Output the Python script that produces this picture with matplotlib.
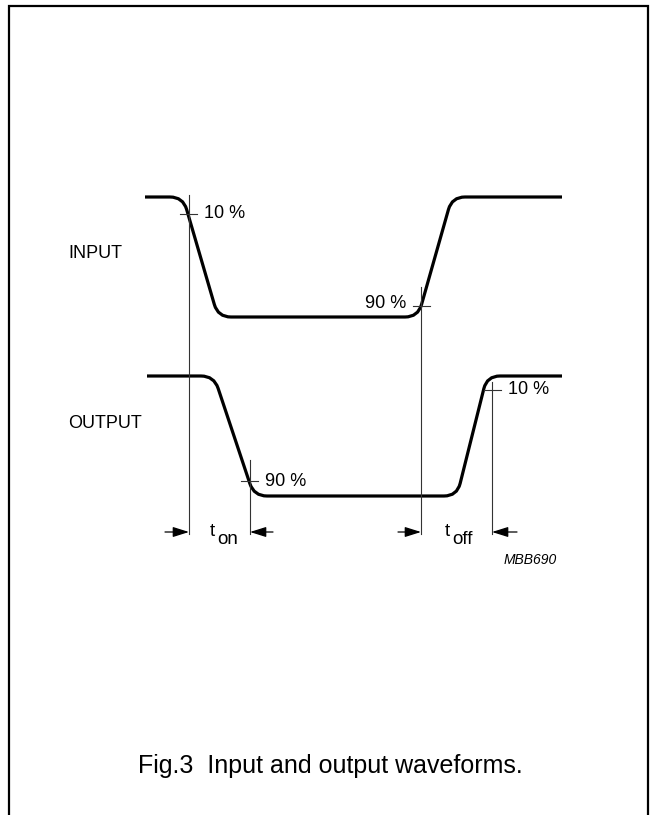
import numpy as np
import matplotlib.pyplot as plt
from matplotlib.path import Path
from matplotlib.patches import PathPatch

plt.rcParams['font.family'] = ['Liberation Sans', 'DejaVu Sans']

# waveform breakpoints (pixel coords of the drawing, y downwards)
in_x = [145, 183, 218, 418, 452, 562]
in_y = [197, 197, 317, 317, 197, 197]
out_x = [147, 214, 254, 457, 487, 562]
out_y = [376, 376, 496, 496, 376, 376]

# threshold marks: (x, y, label, text side)
marks = [(188, 214, '10 %', 'r'), (421, 306, '90 %', 'l'),
         (249, 481, '90 %', 'r'), (492, 390, '10 %', 'r')]
# reference lines: x, y top
vlines = [(189, 195), (421, 287), (250, 460), (492, 382)]
vline_bottom = 534
arrow_y = 532


def rounded_path(xs, ys, r=13):
    verts = [(xs[0], ys[0])]
    codes = [Path.MOVETO]
    for i in range(1, len(xs) - 1):
        p0 = np.array([xs[i-1], ys[i-1]], float)
        p1 = np.array([xs[i], ys[i]], float)
        p2 = np.array([xs[i+1], ys[i+1]], float)
        a = p1 + (p0 - p1) / np.linalg.norm(p0 - p1) * r
        b = p1 + (p2 - p1) / np.linalg.norm(p2 - p1) * r
        verts += [tuple(a), tuple(p1), tuple(b)]
        codes += [Path.LINETO, Path.CURVE3, Path.CURVE3]
    verts.append((xs[-1], ys[-1]))
    codes.append(Path.LINETO)
    return Path(verts, codes)


fig = plt.figure(figsize=(6.54, 8.15), dpi=100)
ax = fig.add_axes([0, 0, 1, 1])
ax.set_xlim(0, 654)
ax.set_ylim(815, 0)
ax.axis('off')

# frame
ax.plot([8.5, 8.5, 648, 648], [815, 6, 6, 815], color='black', lw=1.6,
        solid_joinstyle='miter')

for xs, ys in [(in_x, in_y), (out_x, out_y)]:
    ax.add_patch(PathPatch(rounded_path(xs, ys), fill=False, lw=2.3,
                           edgecolor='black', capstyle='butt'))

for x, yt in vlines:
    ax.plot([x, x], [yt, vline_bottom], color='#333333', lw=0.8)

for x, y, lab, side in marks:
    ax.plot([x - 8.5, x + 8.5], [y, y], color='#333333', lw=0.8)
    if side == 'r':
        ax.text(x + 16, y, lab, fontsize=13, ha='left', va='center')
    else:
        ax.text(x - 15, y - 2, lab, fontsize=13, ha='right', va='center')

# timing arrows
for x0, x1 in [(165, 189), (273, 250), (398, 421), (517, 492)]:
    ax.annotate('', xy=(x1, arrow_y), xytext=(x0, arrow_y),
                arrowprops=dict(arrowstyle='-|>,head_length=0.7,head_width=0.22',
                                color='black', lw=0.9, shrinkA=0, shrinkB=0,
                                mutation_scale=14))

ax.text(210, 531, 't', fontsize=13.5, ha='left', va='center')
ax.text(217, 540, 'on', fontsize=13.5, ha='left', va='center')
ax.text(445, 532, 't', fontsize=13.5, ha='left', va='center')
ax.text(452, 540, 'off', fontsize=13.5, ha='left', va='center')

ax.text(68, 253, 'INPUT', fontsize=13, ha='left', va='center')
ax.text(68, 423, 'OUTPUT', fontsize=13, ha='left', va='center')
ax.text(557, 560, 'MBB690', fontsize=10, ha='right', va='center', style='italic')

ax.text(330, 766, 'Fig.3  Input and output waveforms.', fontsize=18,
        ha='center', va='center')

fig.savefig('out.png', dpi=100)
